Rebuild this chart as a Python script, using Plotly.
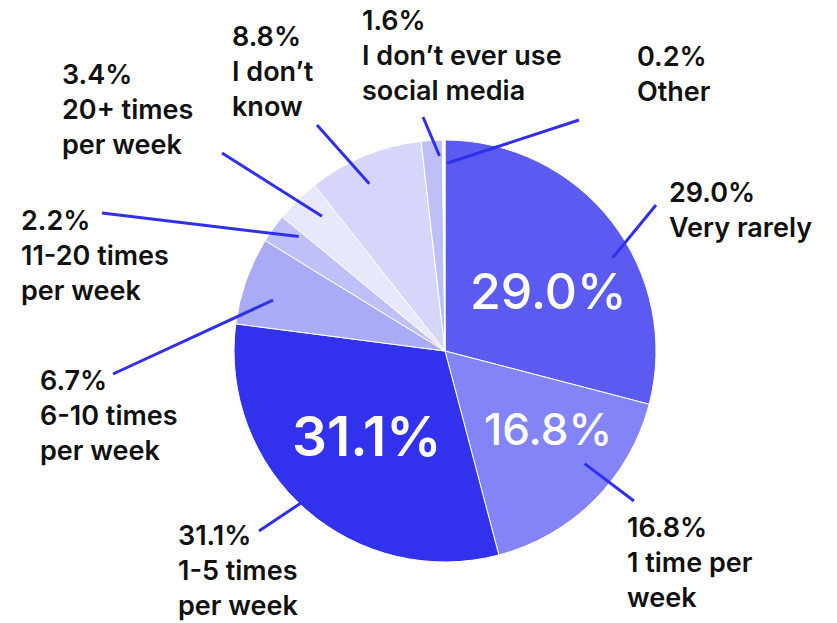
import math
import plotly.graph_objects as go

# Survey answers: how often social media is used
categories = [
    "Very rarely", "1 time per week", "1-5 times per week", "6-10 times per week",
    "11-20 times per week", "20+ times per week", "I don't know",
    "I don't ever use social media", "Other",
]
shares = [29.0, 16.8, 31.1, 6.7, 2.2, 3.4, 8.8, 1.6, 0.2]
outside_text = [
    "Very rarely", "1 time per<br>week", "1-5 times<br>per week", "6-10 times<br>per week",
    "11-20 times<br>per week", "20+ times<br>per week", "I don\u2019t<br>know",
    "I don\u2019t ever use<br>social media", "Other",
]
inside_shown = [True, True, True, False, False, False, False, False, False]

colors = ["#5B5BF2", "#8384F7", "#3232EE", "#AAABF7", "#BFC0F8",
          "#E8E8FC", "#D6D6FA", "#BEBFF8", "#FFFFFF"]

W, H = 837, 623
CX, CY, R = 445, 351, 211          # pie centre and radius in pixels
LINE_COLOR = "#3030EC"

# label block placement (left x, top of caps) and leader-line tails, in pixels
label_xy = [(669, 185), (627, 520), (178, 528), (40, 373), (21, 213),
            (62, 67), (232, 29), (362, 13), (637, 49)]
line_tail = [(656, 205), (634, 501), (259, 531), (113, 374), (102, 213),
             (222, 153), (317, 125), (423, 117), (579, 120)]
line_r = [0.91, 0.85, 0.98, 0.85, 0.88, 0.865, 0.87, 0.925, 0.89]
line_nudge = [8.6, -6.0, 2.0, -3.0, 2.5, 2.0, -2.0, 2.0, 1.0]
# inside value labels: radial fraction, angle nudge, size, weight
inside_r = [0.566, 0.613, 0.551]
inside_nudge = [7.8, -7.8, 1.5]
inside_size = [50, 44, 55]
inside_weight = [500, 500, 600]
LABEL_SIZE = 27


def px(x, y):
    return x / W, 1 - y / H


total = sum(shares)
mid_angles = []
acc = 0.0
for v in shares:
    mid_angles.append((acc + v / 2) / total * 360.0)
    acc += v


def polar(angle_deg, frac):
    a = math.radians(angle_deg)
    return CX + frac * R * math.sin(a), CY - frac * R * math.cos(a)


fig = go.Figure(go.Pie(
    labels=categories,
    values=shares,
    sort=False,
    direction="clockwise",
    rotation=0,
    textinfo="none",
    hoverinfo="label+percent",
    marker=dict(colors=colors, line=dict(color="#FFFFFF", width=1)),
    domain=dict(x=[(CX - R) / W, (CX + R) / W],
                y=[(H - CY - R) / H, (H - CY + R) / H]),
))

shapes = []
annotations = []
for i, v in enumerate(shares):
    sx, sy = polar(mid_angles[i] + line_nudge[i], line_r[i])
    tx, ty = line_tail[i]
    x0, y0 = px(sx, sy)
    x1, y1 = px(tx, ty)
    shapes.append(dict(type="line", xref="paper", yref="paper",
                       x0=x0, y0=y0, x1=x1, y1=y1,
                       line=dict(color=LINE_COLOR, width=3)))
    lx, ly = label_xy[i]
    ax, ay = px(lx - 2, ly - 11)
    annotations.append(dict(
        x=ax, y=ay, xref="paper", yref="paper", xanchor="left", yanchor="top",
        align="left", showarrow=False,
        text=f"{v:.1f}%<br>{outside_text[i]}",
        font=dict(family="Inter", size=LABEL_SIZE, color="#111111", weight=600),
    ))

k = 0
for i, v in enumerate(shares):
    if not inside_shown[i]:
        continue
    ix, iy = polar(mid_angles[i] + inside_nudge[k], inside_r[k])
    x, y = px(ix, iy)
    annotations.append(dict(
        x=x, y=y, xref="paper", yref="paper", xanchor="center", yanchor="middle",
        showarrow=False, text=f"{v:.1f}%",
        font=dict(family="Inter", size=inside_size[k], color="#FFFFFF",
                  weight=inside_weight[k]),
    ))
    k += 1

fig.update_layout(
    width=W, height=H,
    margin=dict(l=0, r=0, t=0, b=0),
    paper_bgcolor="#FFFFFF",
    plot_bgcolor="#FFFFFF",
    showlegend=False,
    shapes=shapes,
    annotations=annotations,
)

fig.write_html("out.html")
